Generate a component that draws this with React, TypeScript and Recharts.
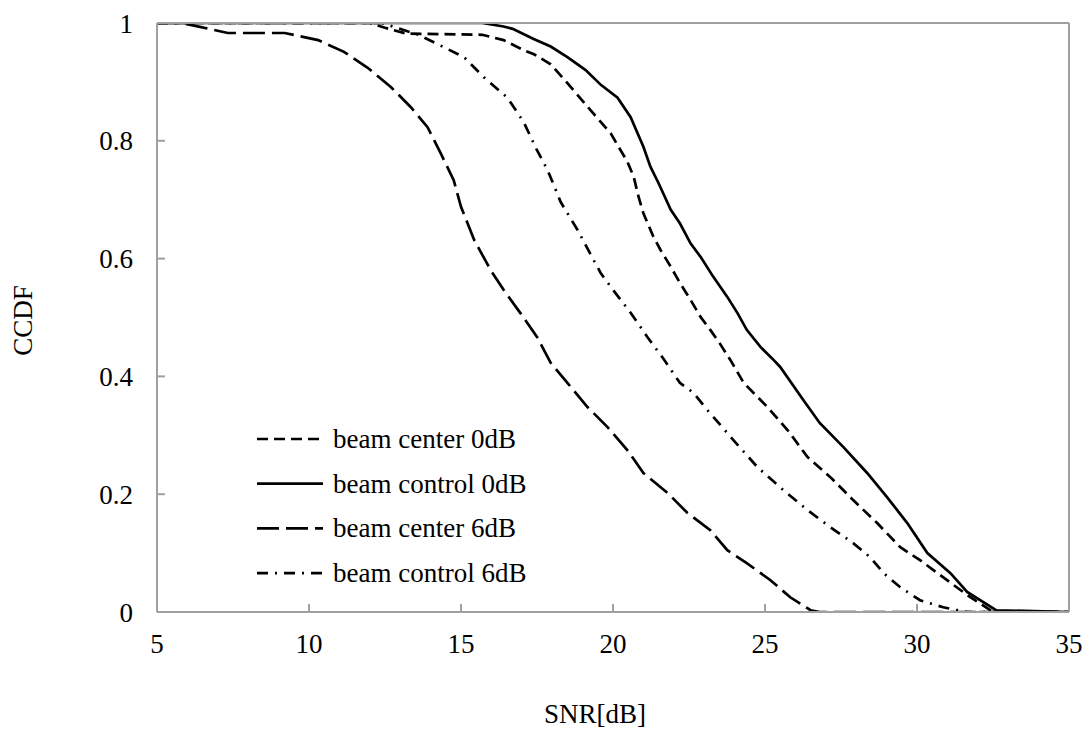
import { LineChart, Line, XAxis, YAxis, Legend, Label } from "recharts";

const FONT = "'Liberation Serif', 'Times New Roman', serif";
const AXIS = "#a0a0a0";

const xTicks = [5, 10, 15, 20, 25, 30, 35];
const yTicks = [0, 0.2, 0.4, 0.6, 0.8, 1];

// beam center 0dB (short dash)
const centerZeroX = [5, 12, 12.5, 13.2, 15.7, 16.4, 17.06, 17.4, 17.95, 18.5, 19.26, 19.92, 20.25, 20.47, 20.68, 20.84, 21.0, 21.33, 21.56, 21.9, 22.2, 22.55, 22.88, 23.2, 23.5, 23.86, 24.3, 25.08, 25.74, 26.4, 27.15, 27.9, 28.69, 29.45, 30.1, 30.99, 31.65, 32.5, 35];
const centerZeroY = [1, 1, 0.992, 0.982, 0.98, 0.971, 0.954, 0.947, 0.93, 0.898, 0.852, 0.813, 0.784, 0.765, 0.739, 0.705, 0.677, 0.637, 0.615, 0.586, 0.559, 0.53, 0.501, 0.479, 0.457, 0.428, 0.389, 0.348, 0.309, 0.263, 0.229, 0.19, 0.151, 0.11, 0.088, 0.054, 0.029, 0, 0];

// beam control 0dB (solid)
const controlZeroX = [5, 15.7, 16.4, 16.7, 17.39, 17.95, 18.5, 19.1, 19.6, 20.15, 20.58, 21.0, 21.23, 21.5, 21.9, 22.2, 22.55, 22.88, 23.3, 23.76, 24.1, 24.4, 24.85, 25.28, 25.5, 26.26, 26.8, 27.58, 28.36, 29.0, 29.68, 30.34, 31.1, 31.65, 32.6, 35];
const controlZeroY = [1, 1, 0.994, 0.99, 0.973, 0.96, 0.942, 0.92, 0.895, 0.873, 0.84, 0.79, 0.756, 0.728, 0.683, 0.66, 0.626, 0.603, 0.569, 0.535, 0.507, 0.479, 0.45, 0.428, 0.416, 0.36, 0.321, 0.28, 0.236, 0.196, 0.151, 0.1, 0.066, 0.034, 0.003, 0];

// beam center 6dB (long dash)
const centerSixX = [5, 5.8, 6.45, 7.33, 9.2, 10.3, 11.15, 11.93, 12.7, 13.35, 13.9, 14.33, 14.76, 15.0, 15.43, 15.98, 16.4, 16.96, 17.5, 17.95, 18.5, 19.16, 19.82, 20.47, 21.0, 21.8, 22.45, 23.2, 23.76, 24.4, 25.18, 25.83, 26.5, 26.8, 35];
const centerSixY = [1, 1, 0.993, 0.983, 0.983, 0.971, 0.951, 0.924, 0.891, 0.857, 0.823, 0.779, 0.733, 0.688, 0.632, 0.58, 0.547, 0.507, 0.467, 0.423, 0.389, 0.348, 0.314, 0.275, 0.236, 0.202, 0.168, 0.139, 0.105, 0.083, 0.054, 0.025, 0.003, 0, 0];

// beam control 6dB (dash-dot)
const controlSixX = [5, 12.4, 12.7, 13.6, 14.43, 15.1, 15.75, 16.53, 17.06, 17.5, 17.85, 18.05, 18.28, 18.83, 19.36, 19.6, 20.0, 20.58, 21.13, 21.66, 22.2, 22.65, 23.1, 23.96, 24.75, 25.6, 26.4, 27.15, 27.9, 28.46, 28.9, 29.45, 30.1, 30.86, 31.65, 35];
const controlSixY = [1, 1, 0.995, 0.98, 0.959, 0.942, 0.908, 0.873, 0.832, 0.784, 0.75, 0.725, 0.696, 0.649, 0.598, 0.575, 0.547, 0.508, 0.467, 0.43, 0.389, 0.372, 0.343, 0.292, 0.246, 0.207, 0.173, 0.144, 0.117, 0.093, 0.066, 0.042, 0.02, 0.008, 0, 0];

const zip = (xs: number[], ys: number[]) => xs.map((x, i) => ({ x, y: ys[i] }));

const series = [
  { name: "beam center 0dB", data: zip(centerZeroX, centerZeroY), dash: "11 6" },
  { name: "beam control 0dB", data: zip(controlZeroX, controlZeroY), dash: undefined },
  { name: "beam center 6dB", data: zip(centerSixX, centerSixY), dash: "22 7" },
  { name: "beam control 6dB", data: zip(controlSixX, controlSixY), dash: "11 7 2 7" },
];

const tickStyle = { fill: "#000", fontSize: 27, fontFamily: FONT };

function LegendBox() {
  return (
    <svg width={320} height={190}>
      {series.map((s, i) => {
        const y = 22 + i * 44.7;
        return (
          <g key={s.name}>
            <line x1={0} x2={66} y1={y} y2={y} stroke="#000" strokeWidth={2.7} strokeDasharray={s.dash} />
            <text x={76} y={y + 9} fontSize={27} fontFamily={FONT} fill="#000">
              {s.name}
            </text>
          </g>
        );
      })}
    </svg>
  );
}

export default function App() {
  return (
    <div style={{ position: "absolute", left: 0, top: 0, width: 1086, height: 731, background: "#fff" }}>
      <LineChart width={1086} height={731} margin={{ top: 22, right: 16, bottom: 0, left: 0 }}>
        <XAxis
          dataKey="x"
          type="number"
          domain={[5, 35]}
          ticks={xTicks}
          allowDataOverflow
          height={119}
          stroke={AXIS}
          strokeWidth={2}
          tickSize={-8}
          tickMargin={30}
          tick={tickStyle}
        >
          <Label
            content={({ viewBox }: any) => (
              <text
                x={viewBox.x + viewBox.width / 2 - 18}
                y={viewBox.y + 111}
                textAnchor="middle"
                fontSize={27}
                fontFamily={FONT}
                fill="#000"
              >
                SNR[dB]
              </text>
            )}
          />
        </XAxis>
        <XAxis
          xAxisId="top"
          orientation="top"
          dataKey="x"
          type="number"
          domain={[5, 35]}
          ticks={xTicks}
          allowDataOverflow
          height={1}
          stroke={AXIS}
          strokeWidth={2}
          tickSize={-8}
          tick={false}
        />
        <YAxis
          type="number"
          domain={[0, 1]}
          ticks={yTicks}
          allowDataOverflow
          width={157}
          stroke={AXIS}
          strokeWidth={2}
          tickSize={-8}
          tickMargin={32}
          tick={tickStyle}
        >
          <Label
            content={({ viewBox }: any) => {
              const cx = 32;
              const cy = viewBox.y + viewBox.height / 2 + 3;
              return (
                <text
                  x={cx}
                  y={cy}
                  transform={`rotate(-90 ${cx} ${cy})`}
                  textAnchor="middle"
                  fontSize={27}
                  fontFamily={FONT}
                  fill="#000"
                >
                  CCDF
                </text>
              );
            }}
          />
        </YAxis>
        <YAxis
          yAxisId="right"
          orientation="right"
          type="number"
          domain={[0, 1]}
          ticks={yTicks}
          allowDataOverflow
          width={1}
          stroke={AXIS}
          strokeWidth={2}
          tickSize={-8}
          tick={false}
        />
        <Legend
          layout="vertical"
          align="center"
          verticalAlign="middle"
          content={() => <LegendBox />}
          wrapperStyle={{ left: 257, top: 417, width: 320, height: 190 }}
        />
        {series.map((s) => (
          <Line
            key={s.name}
            name={s.name}
            data={s.data}
            dataKey="y"
            type="linear"
            stroke="#000"
            strokeWidth={2.7}
            strokeDasharray={s.dash}
            dot={false}
            activeDot={false}
            isAnimationActive={false}
          />
        ))}
      </LineChart>
    </div>
  );
}
